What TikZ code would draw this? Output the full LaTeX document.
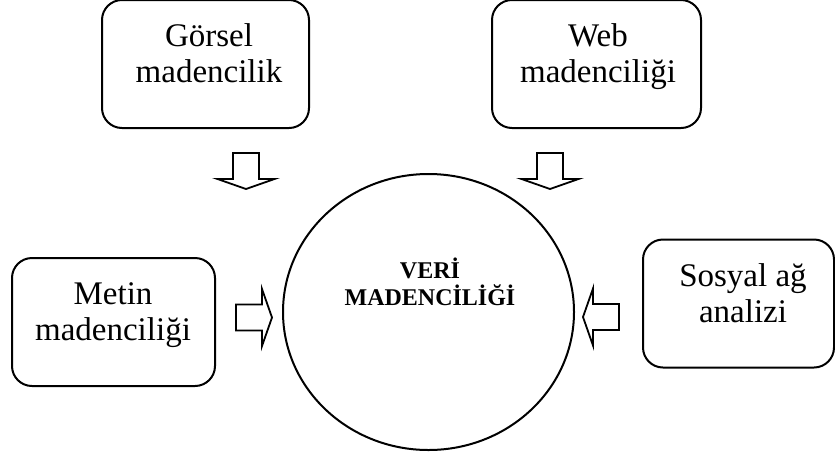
\documentclass[tikz,border=0pt]{standalone}
\usepackage{fontspec}
\setmainfont{Liberation Serif}
\usetikzlibrary{shapes.geometric}

\begin{document}
\begin{tikzpicture}[
		x=1pt, y=1pt,
		box/.style={draw, line width=2pt, rounded corners=20pt, minimum width=207pt, minimum height=128pt},
		lbl/.style={align=center, anchor=base, inner sep=0pt, font=\fontsize{33}{36}\selectfont},
		core/.style={draw, ellipse, line width=2pt, minimum width=291pt, minimum height=276pt},
		pics/fatarrow/.style={code={
			\draw[line width=1.8pt] (0,-13) -- (26,-13) -- (26,-28.5) -- (36,0) -- (26,28.5) -- (26,13) -- (0,13) -- cycle;
		}},
	]
		\useasboundingbox (0,0) rectangle (835,-459);
		% outer boxes
		\node (gorsel) [box] at (205.5,-64) {};
		\node (web) [box, minimum width=209pt] at (596.5,-64) {};
		\node (metin) [box, minimum width=203pt] at (113.5,-322) {};
		\node (sosyal) [box, minimum width=191pt] at (738.5,-303.5) {};
		\node (gorselT) [lbl] at (209,-82.5) {Görsel\\madencilik};
		\node (webT) [lbl] at (598,-82.5) {Web\\madenciliği};
		\node (metinT) [lbl] at (113,-340) {Metin\\madenciliği};
		\node (sosyalT) [lbl] at (743,-322) {Sosyal ağ\\analizi};
		% centre
		\node (veri) [core] at (428.5,-312) {};
		\node (veriT) [lbl, font=\bfseries\fontsize{24}{27}\selectfont] at (430,-305) {VERİ\\MADENCİLİĞİ};
		% block arrows
		\pic[rotate=-90] (gorselA) at (246,-153) {fatarrow};
		\pic[rotate=-90] (webA) at (550,-153) {fatarrow};
		\pic (metinA) at (236,-317.5) {fatarrow};
		\pic[rotate=180] (sosyalA) at (619,-317) {fatarrow};
	\end{tikzpicture}
\end{document}
